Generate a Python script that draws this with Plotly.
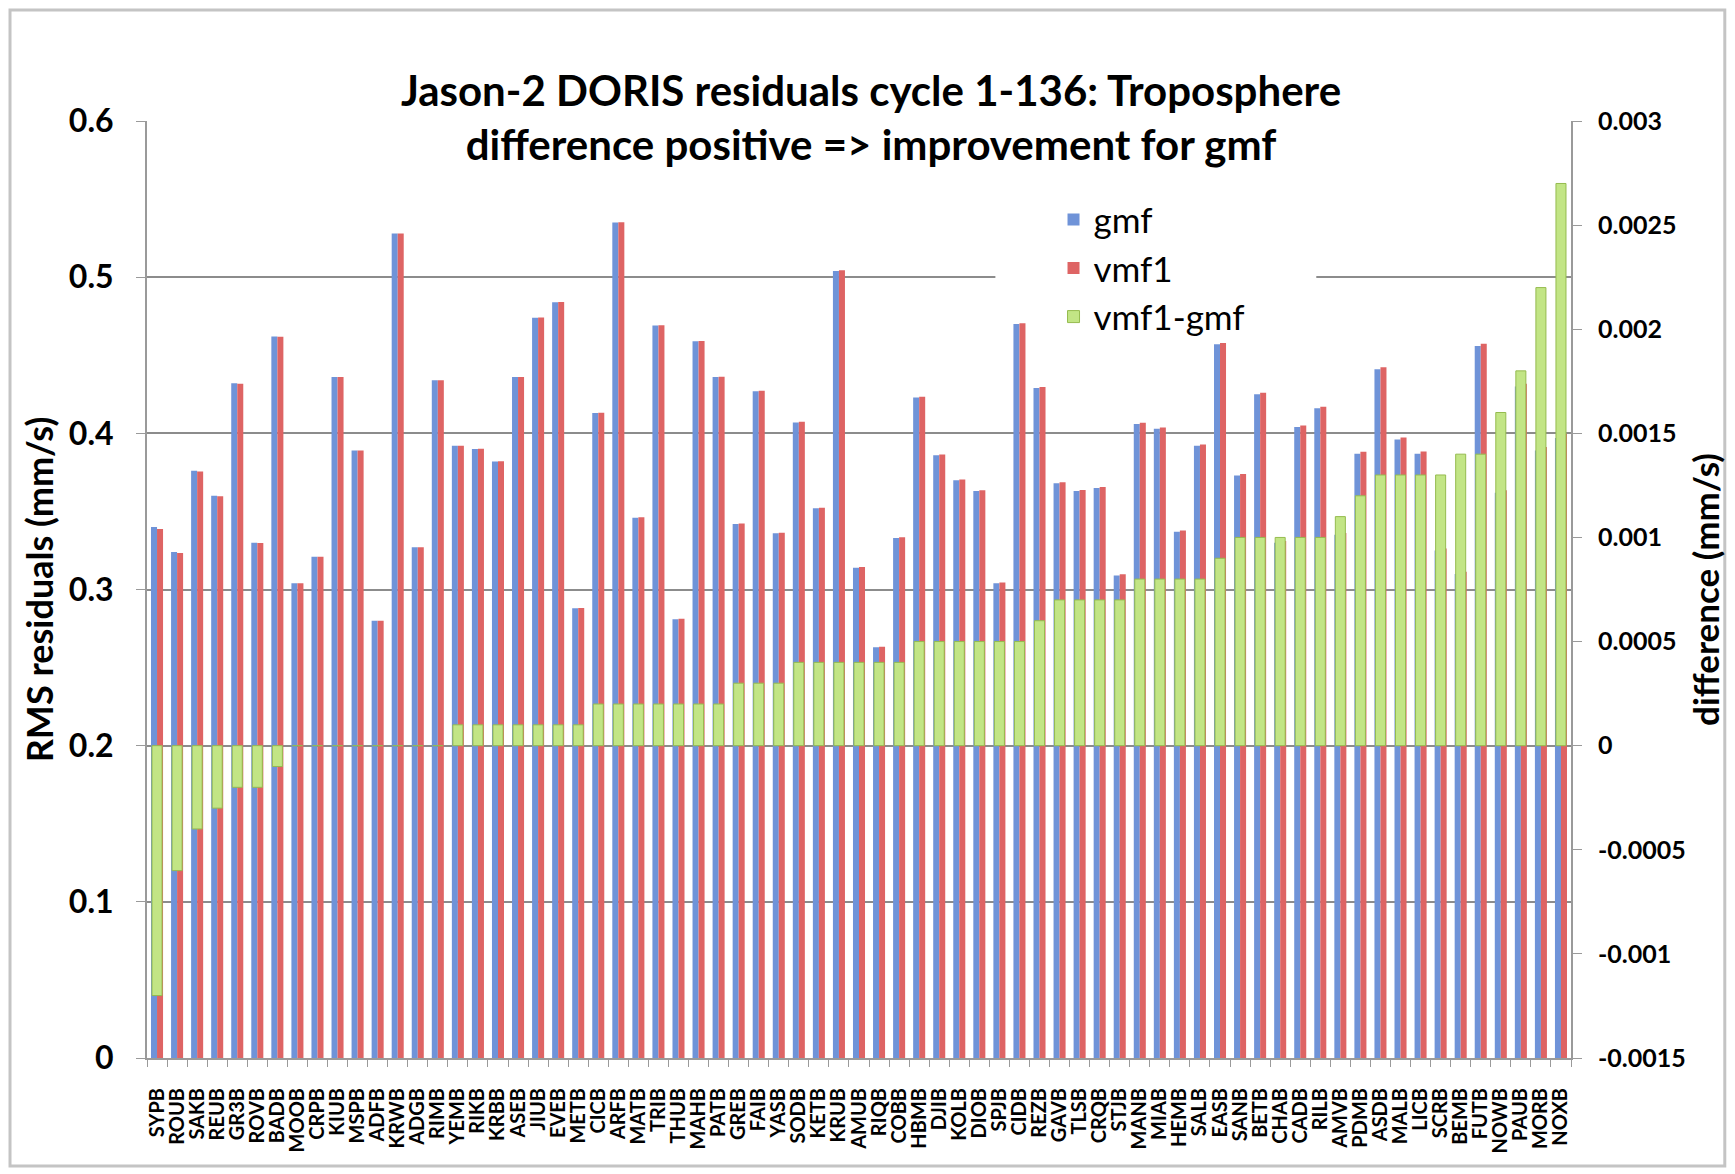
import plotly.graph_objects as go

# stations, sorted by vmf1-gmf
stations = [
    "SYPB", "ROUB", "SAKB", "REUB", "GR3B", "ROVB", "BADB", "MOOB", "CRPB", "KIUB",
    "MSPB", "ADFB", "KRWB", "ADGB", "RIMB", "YEMB", "RIKB", "KRBB", "ASEB", "JIUB",
    "EVEB", "METB", "CICB", "ARFB", "MATB", "TRIB", "THUB", "MAHB", "PATB", "GREB",
    "FAIB", "YASB", "SODB", "KETB", "KRUB", "AMUB", "RIQB", "COBB", "HBMB", "DJIB",
    "KOLB", "DIOB", "SPJB", "CIDB", "REZB", "GAVB", "TLSB", "CRQB", "STJB", "MANB",
    "MIAB", "HEMB", "SALB", "EASB", "SANB", "BETB", "CHAB", "CADB", "RILB", "AMVB",
    "PDMB", "ASDB", "MALB", "LICB", "SCRB", "BEMB", "FUTB", "NOWB", "PAUB", "MORB",
    "NOXB",
]

# RMS residuals with gmf (mm/s)
gmf = [
    0.340, 0.324, 0.376, 0.360, 0.432, 0.330, 0.462, 0.304, 0.321, 0.436,
    0.389, 0.280, 0.528, 0.327, 0.434, 0.392, 0.390, 0.382, 0.436, 0.474,
    0.484, 0.288, 0.413, 0.535, 0.346, 0.469, 0.281, 0.459, 0.436, 0.342,
    0.427, 0.336, 0.407, 0.352, 0.504, 0.314, 0.263, 0.333, 0.423, 0.386,
    0.370, 0.363, 0.304, 0.470, 0.429, 0.368, 0.363, 0.365, 0.309, 0.406,
    0.403, 0.337, 0.392, 0.457, 0.373, 0.425, 0.330, 0.404, 0.416, 0.335,
    0.387, 0.441, 0.396, 0.387, 0.325, 0.310, 0.456, 0.362, 0.430, 0.389,
    0.397,
]

# vmf1 - gmf (mm/s), right axis
diff = [
    -0.0012, -0.0006, -0.0004, -0.0003, -0.0002, -0.0002, -0.0001, 0, 0, 0,
    0, 0, 0, 0, 0, 0.0001, 0.0001, 0.0001, 0.0001, 0.0001,
    0.0001, 0.0001, 0.0002, 0.0002, 0.0002, 0.0002, 0.0002, 0.0002, 0.0002, 0.0003,
    0.0003, 0.0003, 0.0004, 0.0004, 0.0004, 0.0004, 0.0004, 0.0004, 0.0005, 0.0005,
    0.0005, 0.0005, 0.0005, 0.0005, 0.0006, 0.0007, 0.0007, 0.0007, 0.0007, 0.0008,
    0.0008, 0.0008, 0.0008, 0.0009, 0.0010, 0.0010, 0.0010, 0.0010, 0.0010, 0.0011,
    0.0012, 0.0013, 0.0013, 0.0013, 0.0013, 0.0014, 0.0014, 0.0016, 0.0018, 0.0022,
    0.0027,
]

vmf1 = [round(g + d, 4) for g, d in zip(gmf, diff)]

right_tickvals = [-0.0015, -0.001, -0.0005, 0, 0.0005, 0.001, 0.0015, 0.002, 0.0025, 0.003]
right_ticktext = ["-0.0015", "-0.001", "-0.0005", "0", "0.0005", "0.001", "0.0015", "0.002", "0.0025", "0.003"]

FONT = "Lato, 'Open Sans', sans-serif"
GRID = "#8c8c8c"
AXIS = "#9a9a9a"

# the page body adds an 8px margin, so the figure is 8px smaller than the window
W, H = 1727, 1166

fig = go.Figure()

fig.add_trace(go.Bar(
    x=stations, y=gmf, name="gmf",
    marker=dict(color="#6f93d8", line=dict(width=0)),
    width=0.3, offset=-0.3,
))
fig.add_trace(go.Bar(
    x=stations, y=vmf1, name="vmf1",
    marker=dict(color="#de6464", line=dict(width=0)),
    width=0.3, offset=0.0,
))
fig.add_trace(go.Bar(
    x=stations, y=diff, name="vmf1-gmf", yaxis="y2",
    marker=dict(color="#c2e585", line=dict(color="#95bb4f", width=1)),
    width=0.5, offset=-0.25, base=0,
))

fig.update_layout(
    width=W,
    height=H,
    margin=dict(l=139, r=164, t=113, b=116, autoexpand=False),
    paper_bgcolor="white",
    plot_bgcolor="white",
    barmode="overlay",
    font=dict(family=FONT, color="black"),
    title=dict(
        text="Jason-2 DORIS residuals cycle 1-136: Troposphere<br>"
             "difference positive => improvement for gmf",
        x=863 / W, xanchor="center", xref="container",
        y=1 - 97.5 / H, yanchor="top", yref="container",
        font=dict(family=FONT, size=42, weight="bold", color="black"),
    ),
    xaxis=dict(
        type="category",
        tickmode="linear", tick0=0, dtick=1,
        tickangle=-90,
        tickfont=dict(family=FONT, size=20, weight="bold"),
        ticks="outside", tickson="boundaries", ticklen=7, tickcolor=AXIS,
        ticklabelstandoff=20,
        showline=True, linecolor=AXIS, linewidth=2,
        showgrid=False,
        range=[-0.5, len(stations) - 0.5],
        automargin=False,
    ),
    yaxis=dict(
        range=[0, 0.6], dtick=0.1,
        tickfont=dict(family=FONT, size=32, weight="bold"),
        ticks="outside", ticklen=9, tickcolor=AXIS,
        ticklabelstandoff=16,
        showline=True, linecolor=AXIS, linewidth=2,
        showgrid=True, gridcolor=GRID, gridwidth=1.5,
        zeroline=False,
        automargin=False,
        title=dict(text="RMS residuals (mm/s)", standoff=4,
                   font=dict(family=FONT, size=36, weight="bold")),
    ),
    yaxis2=dict(
        overlaying="y", side="right",
        range=[-0.0015, 0.003],
        tickvals=right_tickvals, ticktext=right_ticktext,
        tickfont=dict(family=FONT, size=25, weight="bold"),
        ticks="outside", ticklen=9, tickcolor=AXIS,
        ticklabelstandoff=11,
        showline=True, linecolor=AXIS, linewidth=2,
        showgrid=False, zeroline=False,
        automargin=False,
        title=dict(text="difference (mm/s)", standoff=10,
                   font=dict(family=FONT, size=35, weight="bold")),
    ),
    legend=dict(
        x=0.6366, y=0.926, xanchor="left", yanchor="top",
        bgcolor="rgba(255,255,255,0)",
        font=dict(family=FONT, size=35),
        traceorder="normal",
    ),
    shapes=[
        # white box behind the legend, hiding the gridline as in the original
        dict(
            type="rect", xref="x", yref="y",
            x0=41.8, x1=57.8, y0=0.49, y1=0.55,
            fillcolor="white", line=dict(width=0), layer="between",
        ),
        # chart border
        dict(
            type="rect", xref="paper", yref="paper",
            x0=-0.0962, x1=1.108, y0=-0.1153, y1=1.1185,
            line=dict(color="#c4c4c4", width=3), layer="below",
        ),
    ],
)

fig.write_html("out.html")
